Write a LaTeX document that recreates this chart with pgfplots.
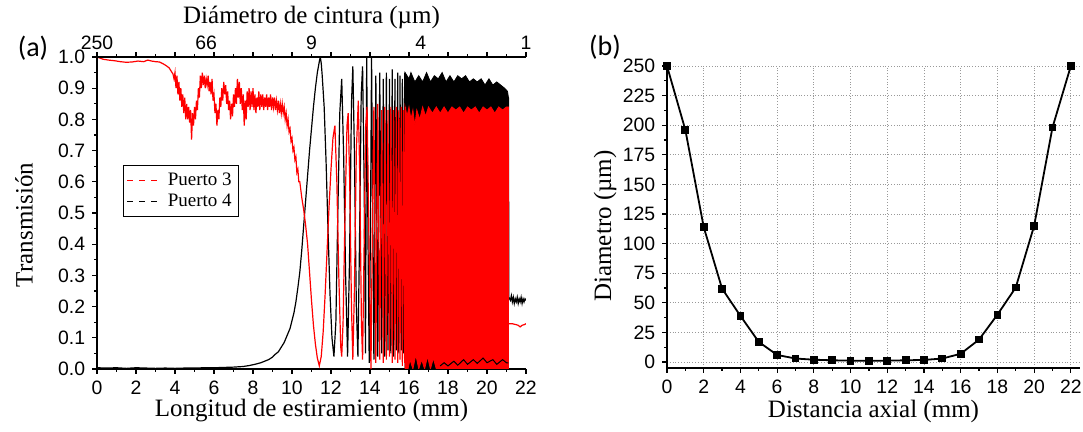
\documentclass[border=0pt]{standalone}
\usepackage{fontspec}
\setmainfont{Liberation Serif}
\newfontfamily\arialf{Liberation Sans}
\newfontfamily\calib{Carlito}
\usepackage{pgfplots}
\pgfplotsset{compat=1.18}

\pgfplotsset{
  panel/.style={
    scale only axis,
    tick align=outside,
    axis line style={line width=0.8pt},
    major tick length=2.4pt,
    minor tick length=1.4pt,
    every tick/.style={black, line width=0.6pt},
    tick label style={font=\arialf\fontsize{9.7}{11}\selectfont},
    label style={font=\fontsize{12.5}{14}\selectfont},
    /pgf/number format/assume math mode=true,
  },
}

\begin{document}
\begin{tikzpicture}
\path[use as bounding box] (0,0) rectangle (541.5pt,216pt);

% (a) transmision vs longitud de estiramiento
\begin{axis}[panel,
  at={(48.5pt,31.5pt)}, anchor=south west,
  width=214.5pt, height=156pt,
  xmin=0, xmax=22, ymin=0, ymax=1,
  axis x line*=bottom, axis y line*=left,
  xtick={0,2,...,22}, minor x tick num=1,
  ytick={0,0.1,0.2,0.3,0.4,0.5,0.6,0.7,0.8,0.9,1},
  minor y tick num=1,
  yticklabel style={/pgf/number format/.cd, fixed, fixed zerofill, precision=1},
  xlabel={Longitud de estiramiento (mm)},
  ylabel={Transmisión},
  xlabel style={at={(axis description cs:0.5,0)}, anchor=center, yshift=-21pt},
  ylabel style={at={(axis description cs:0,0.5)}, anchor=center, yshift=36.5pt, xshift=-6pt},
  legend style={at={(axis description cs:0.061,0.654)}, anchor=north west,
    draw=black, line width=0.5pt, font=\fontsize{9.5}{11}\selectfont,
    inner sep=1.5pt, row sep=-1pt, cells={anchor=west}},
  legend image code/.code={\draw[#1] (0pt,0pt) -- (18pt,0pt);},
]
\addlegendimage{red, dashed, line width=0.6pt}
\addlegendentry{Puerto 3}
\addlegendimage{black, dashed, line width=0.6pt}
\addlegendentry{Puerto 4}

% Puerto 4
\addplot[black, line width=0.6pt, forget plot] coordinates {
(0,0.004)(0.5,0.003)(1,0.004)(1.5,0.002)(2,0.004)(2.5,0.003)(3,0.002)(3.5,0.003)
(4,0.002)(4.5,0.003)(5,0.003)(5.5,0.004)(6,0.004)(6.5,0.005)(7,0.006)(7.5,0.008)
(7.8,0.011)(8.1,0.015)(8.4,0.02)(8.6,0.025)(8.8,0.03)(9.0,0.038)(9.1,0.045)(9.2,0.05)
(9.3,0.055)(9.4,0.065)(9.5,0.075)(9.6,0.085)(9.7,0.1)(9.8,0.115)(9.9,0.13)(10.0,0.155)
(10.1,0.18)(10.2,0.215)(10.3,0.26)(10.4,0.31)(10.5,0.38)(10.6,0.46)(10.7,0.54)(10.8,0.62)
(10.9,0.7)(11.0,0.77)(11.1,0.84)(11.2,0.9)(11.3,0.95)(11.4,0.985)(11.45,1.0)(11.5,0.98)
(11.55,0.94)(11.65,0.84)(11.75,0.66)(11.85,0.44)(11.95,0.24)(12.05,0.1)(12.15,0.04)
(12.25,0.15)(12.35,0.5)(12.45,0.82)(12.55,0.93)(12.65,0.68)(12.75,0.3)(12.85,0.04)
(12.95,0.35)(13.05,0.85)(13.12,0.97)(13.2,0.7)(13.3,0.2)(13.38,0.04)(13.46,0.4)
(13.55,0.88)(13.62,0.97)(13.7,0.6)(13.77,0.05)(13.83,1.0)(13.9,0.4)(13.96,0.02)
(14.03,0.5)(14.08,1.0)(14.14,0.5)(14.2,0.03)(14.3,0.94)(14.4,0.04)(14.5,0.95)(14.6,0.05)
(14.68,0.93)(14.76,0.04)(14.84,0.95)(14.92,0.06)(15.0,0.93)(15.07,0.05)(15.14,0.96)
(15.21,0.04)(15.28,0.93)(15.35,0.06)(15.42,0.95)(15.48,0.05)(15.54,0.94)(15.6,0.06)
(15.66,0.93)(15.72,0.05)(15.78,0.95)(15.82,0.03)
};
% Puerto 4, dense oscillation band
\addplot[fill=black, draw=black, line width=0.4pt, forget plot] coordinates {
(15.8,0.95)(16.0,0.93)(16.1,0.95)(16.3,0.92)(16.5,0.94)(16.7,0.92)(16.9,0.95)(17.1,0.92)
(17.3,0.94)(17.5,0.93)(17.7,0.95)(17.9,0.92)(18.1,0.94)(18.3,0.92)(18.5,0.94)(18.7,0.93)
(18.9,0.94)(19.1,0.92)(19.3,0.93)(19.5,0.92)(19.7,0.93)(19.9,0.91)(20.1,0.93)(20.3,0.91)
(20.5,0.92)(20.7,0.91)(20.9,0.9)(21.05,0.89)(21.1,0.87)(21.1,0.0)(15.8,0.0)
} -- cycle;
% Puerto 4, tail
\addplot[black, line width=0.6pt, forget plot] coordinates {
(21.1,0.87)(21.12,0.23)(21.2,0.22)(21.25,0.235)(21.3,0.215)(21.35,0.23)(21.4,0.21)
(21.45,0.225)(21.5,0.215)(21.55,0.23)(21.6,0.21)(21.65,0.225)(21.7,0.215)(21.75,0.23)
(21.8,0.21)(21.85,0.225)(21.9,0.215)(21.95,0.225)(22.0,0.22)
};

% Puerto 3
\addplot[red, line width=0.6pt, forget plot] coordinates {
(0,1.0)(0.3,0.993)(0.6,0.99)(0.9,0.988)(1.2,0.985)(1.5,0.983)(1.8,0.984)(2.1,0.987)
(2.4,0.985)(2.6,0.99)(2.8,0.987)(3.0,0.985)(3.2,0.984)(3.4,0.978)(3.55,0.972)(3.7,0.965)
(3.8,0.955)(3.9,0.945)(3.95,0.93)(4.0,0.95)(4.05,0.9)(4.1,0.94)(4.15,0.88)(4.2,0.92)
(4.25,0.86)(4.3,0.9)(4.35,0.84)(4.4,0.88)(4.45,0.82)(4.5,0.87)(4.55,0.8)(4.6,0.85)
(4.65,0.8)(4.7,0.84)(4.75,0.79)(4.8,0.83)(4.85,0.735)(4.9,0.82)(4.95,0.78)(5.0,0.84)
(5.05,0.8)(5.1,0.86)(5.15,0.83)(5.2,0.9)(5.25,0.87)(5.3,0.94)(5.35,0.9)(5.4,0.95)
(5.45,0.91)(5.5,0.94)(5.55,0.9)(5.6,0.93)(5.65,0.91)(5.7,0.94)(5.75,0.89)(5.8,0.92)
(5.85,0.88)(5.9,0.93)(5.95,0.86)(6.0,0.88)(6.05,0.82)(6.1,0.85)(6.15,0.78)(6.2,0.83)
(6.25,0.8)(6.3,0.87)(6.35,0.84)(6.4,0.9)(6.45,0.86)(6.5,0.92)(6.55,0.88)(6.6,0.91)
(6.65,0.85)(6.7,0.89)(6.75,0.83)(6.8,0.86)(6.85,0.8)(6.9,0.85)(6.95,0.81)(7.0,0.88)
(7.05,0.84)(7.1,0.9)(7.15,0.85)(7.2,0.93)(7.25,0.87)(7.3,0.92)(7.35,0.85)(7.4,0.9)
(7.45,0.83)(7.5,0.88)(7.55,0.78)(7.6,0.86)(7.65,0.8)(7.7,0.89)(7.75,0.84)(7.8,0.9)
(7.85,0.83)(7.9,0.89)(7.95,0.84)(8.0,0.9)(8.05,0.83)(8.1,0.88)(8.15,0.82)(8.2,0.87)
(8.25,0.84)(8.3,0.89)(8.35,0.83)(8.4,0.88)(8.45,0.84)(8.5,0.88)(8.55,0.83)(8.6,0.87)
(8.65,0.84)(8.7,0.88)(8.75,0.83)(8.8,0.87)(8.85,0.84)(8.9,0.88)(8.95,0.83)(9.0,0.87)
(9.05,0.84)(9.1,0.87)(9.15,0.83)(9.2,0.86)(9.25,0.83)(9.3,0.86)(9.35,0.82)(9.4,0.85)
(9.45,0.82)(9.5,0.85)(9.55,0.82)(9.6,0.84)(9.65,0.8)(9.7,0.82)(9.75,0.78)(9.8,0.8)
(9.85,0.76)(9.9,0.77)(9.95,0.73)(10.0,0.74)(10.05,0.7)(10.1,0.71)(10.15,0.67)(10.2,0.68)
(10.25,0.63)(10.3,0.64)(10.35,0.6)(10.4,0.6)(10.5,0.55)(10.6,0.51)(10.7,0.46)(10.8,0.4)
(10.9,0.31)(11.0,0.22)(11.1,0.14)(11.2,0.08)(11.3,0.035)(11.4,0.01)(11.5,0.04)(11.6,0.12)
(11.7,0.24)(11.8,0.38)(11.9,0.52)(12.0,0.64)(12.1,0.74)(12.2,0.78)(12.3,0.6)(12.4,0.3)
(12.5,0.07)(12.55,0.04)(12.62,0.15)(12.72,0.5)(12.82,0.78)(12.88,0.82)(12.96,0.6)
(13.05,0.2)(13.12,0.03)(13.2,0.25)(13.3,0.7)(13.4,0.86)(13.48,0.6)(13.56,0.15)(13.62,0.03)
(13.7,0.4)(13.78,0.78)(13.85,0.84)(13.95,0.4)(14.05,0.0)(14.12,0.45)(14.2,0.84)(14.3,0.02)
(14.4,0.85)(14.5,0.03)(14.6,0.83)(14.68,0.02)(14.76,0.84)(14.84,0.03)(14.92,0.83)
(15.0,0.04)(15.07,0.84)(15.14,0.02)(15.21,0.83)(15.28,0.03)(15.35,0.84)(15.42,0.02)
(15.48,0.83)(15.54,0.03)(15.6,0.84)(15.66,0.01)(15.72,0.83)(15.78,0.02)(15.82,0.84)
};
% Puerto 3, dense oscillation band
\addplot[fill=red, draw=red, line width=0.4pt, forget plot] coordinates {
(15.8,0.84)(15.9,0.81)(16.0,0.84)(16.1,0.8)(16.2,0.83)(16.3,0.78)(16.4,0.83)(16.55,0.8)
(16.7,0.84)(16.85,0.81)(17.0,0.84)(17.2,0.82)(17.4,0.84)(17.6,0.82)(17.8,0.84)(18.0,0.82)
(18.2,0.84)(18.4,0.83)(18.6,0.84)(18.8,0.82)(19.0,0.84)(19.2,0.83)(19.4,0.84)(19.6,0.82)
(19.8,0.84)(20.0,0.83)(20.2,0.84)(20.4,0.82)(20.6,0.84)(20.8,0.83)(21.0,0.84)(21.1,0.84)
(21.1,0.0)(19.0,0.0)(17.4,0.0)(17.25,0.035)(17.1,0.0)(16.95,0.04)(16.8,0.0)(16.65,0.03)
(16.5,0.0)(16.35,0.045)(16.2,0.0)(16.05,0.03)(15.95,0.0)(15.8,0.0)
} -- cycle;
% Puerto 3, tail
\addplot[red, line width=0.6pt, forget plot] coordinates {
(21.1,0.145)(21.3,0.145)(21.5,0.142)(21.6,0.14)(21.7,0.135)(21.8,0.14)(21.9,0.142)(22.0,0.145)
};
% Puerto 4, residue at the bottom of the band
\addplot[black, line width=0.5pt, forget plot] coordinates {
(17.6,0.01)(17.8,0.02)(18.0,0.01)(18.3,0.025)(18.5,0.012)(18.8,0.03)(19.0,0.015)(19.3,0.03)
(19.5,0.018)(19.8,0.035)(20.0,0.02)(20.3,0.03)(20.5,0.015)(20.8,0.03)(21.0,0.02)(21.1,0.02)
};
\end{axis}

% (a) top axis: diametro de cintura
\begin{axis}[panel,
  at={(48.5pt,31.5pt)}, anchor=south west,
  width=214.5pt, height=156pt,
  xmin=0, xmax=22, ymin=0, ymax=1,
  axis x line*=top, axis y line=none,
  xtick={0,5.6,11,16.6,22}, xticklabels={250,66,9,4,1},
  major tick length=0pt,
  extra x ticks={0,2,...,22}, extra x tick labels={},
  extra x tick style={major tick length=2.4pt},
  minor xtick={1,3,...,21},
  xlabel={Diámetro de cintura (µm)},
  xlabel style={at={(axis description cs:0.5,1)}, anchor=center, yshift=20pt},
]
\addplot[draw=none] coordinates {(0,0) (22,1)};
\end{axis}

% (b) diametro vs distancia axial
\begin{axis}[panel,
  at={(333.5pt,32pt)}, anchor=south west,
  width=206.5pt, height=151pt,
  xmin=0, xmax=22.5, ymin=-5, ymax=250,
  axis x line*=bottom, axis y line*=left,
  xtick={0,2,...,22}, minor x tick num=1,
  ytick={0,25,...,250}, minor y tick num=1,
  grid=major, major grid style={densely dotted, black!40, line width=0.4pt},
  xlabel={Distancia axial (mm)}, ylabel={Diametro (µm)},
  xlabel style={at={(axis description cs:0.5,0)}, anchor=center, yshift=-21.5pt},
  ylabel style={at={(axis description cs:0,0.5)}, anchor=center, yshift=31pt, xshift=-4.5pt},
  clip=false,
]
\addplot[black, line width=0.9pt, mark=square*, mark size=1.5pt] coordinates {
(0,250)(1,196)(2,114)(3,62)(4,39)(5,17)(6,6)(7,3)(8,2)(9,1.5)(10,1.2)(11,1)
(12,1.2)(13,1.5)(14,1.8)(15,3)(16,7)(17,19)(18,40)(19,63)(20,115)(21,198)(22,250)
};
\end{axis}

\node[font=\calib\fontsize{14}{16}\selectfont] at (16.5pt,192pt) {(a)};
\node[font=\calib\fontsize{14}{16}\selectfont] at (302.5pt,192.5pt) {(b)};
\end{tikzpicture}
\end{document}
